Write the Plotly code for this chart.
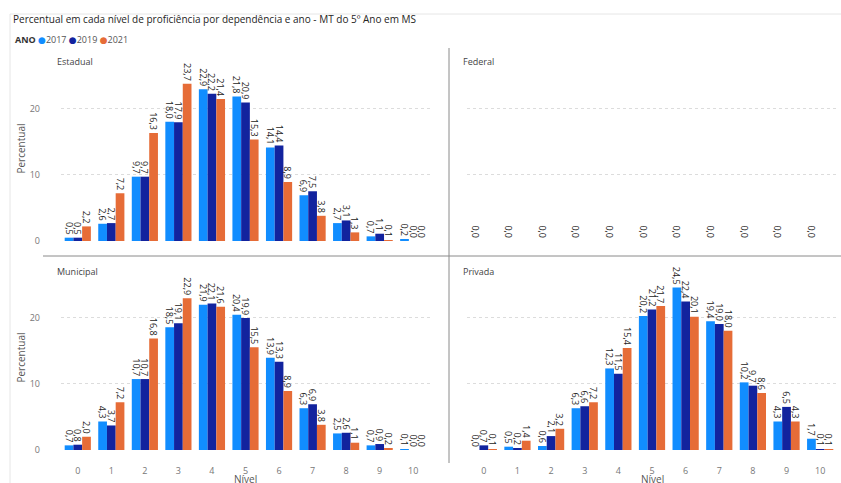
import plotly.graph_objects as go

W, H = 841, 483

niveis = ["0", "1", "2", "3", "4", "5", "6", "7", "8", "9", "10"]
anos = ["2017", "2019", "2021"]
cores = {"2017": "#118DFF", "2019": "#12239E", "2021": "#E66C37"}

estadual_2017 = [0.5, 2.6, 9.7, 18.0, 22.9, 21.8, 14.1, 6.9, 2.7, 0.7, 0.2]
estadual_2019 = [0.5, 2.7, 9.7, 17.9, 22.2, 20.9, 14.4, 7.5, 3.1, 1.1, 0.0]
estadual_2021 = [2.2, 7.2, 16.3, 23.7, 21.4, 15.3, 8.9, 3.8, 1.3, 0.1, 0.0]

federal_2017 = [0.0, 0.0, 0.0, 0.0, 0.0, 0.0, 0.0, 0.0, 0.0, 0.0, 0.0]
federal_2019 = [0.0, 0.0, 0.0, 0.0, 0.0, 0.0, 0.0, 0.0, 0.0, 0.0, 0.0]
federal_2021 = [0.0, 0.0, 0.0, 0.0, 0.0, 0.0, 0.0, 0.0, 0.0, 0.0, 0.0]

municipal_2017 = [0.7, 4.3, 10.7, 18.5, 21.9, 20.4, 13.9, 6.3, 2.5, 0.7, 0.1]
municipal_2019 = [0.8, 3.7, 10.7, 19.1, 22.1, 19.9, 13.3, 6.9, 2.6, 0.9, 0.0]
municipal_2021 = [2.0, 7.2, 16.8, 22.9, 21.6, 15.5, 8.9, 3.8, 1.1, 0.2, 0.0]

privada_2017 = [0.0, 0.5, 0.6, 6.3, 12.3, 20.2, 24.5, 19.4, 10.2, 4.3, 1.7]
privada_2019 = [0.7, 0.2, 2.1, 6.6, 11.5, 21.2, 22.4, 19.0, 9.7, 6.5, 0.1]
privada_2021 = [0.1, 1.4, 3.2, 7.2, 15.4, 21.7, 20.1, 18.0, 8.6, 4.3, 0.1]

y_ticks = [0, 10, 20]

paineis = [
    ("Estadual", "x", "y", [estadual_2017, estadual_2019, estadual_2021], True),
    ("Federal", "x2", "y2", [federal_2017, federal_2019, federal_2021], False),
    ("Municipal", "x3", "y3", [municipal_2017, municipal_2019, municipal_2021], True),
    ("Privada", "x4", "y4", [privada_2017, privada_2019, privada_2021], True),
]

FONT = "Open Sans, DejaVu Sans, sans-serif"


def fmt(v):
    return f"{v:.1f}".replace(".", ",")


fig = go.Figure()
for nome, xa, ya, series, all_labels in paineis:
    for i, (ano, vals) in enumerate(zip(anos, series)):
        show_text = all_labels or i == 0
        fig.add_trace(go.Bar(
            x=niveis, y=vals, name=ano, xaxis=xa, yaxis=ya,
            marker=dict(color=cores[ano], line=dict(width=0)),
            text=[fmt(v) for v in vals] if show_text else None,
            textposition="outside", textangle=90,
            textfont=dict(size=9, color="#252423", family=FONT),
            constraintext="none", cliponaxis=False,
            showlegend=False, hoverinfo="x+y+name",
        ))

px_x = lambda p: p / W
px_y = lambda p: 1 - p / H

left_dom = [px_x(61), px_x(430)]
right_dom = [px_x(467), px_x(837)]
top_dom = [px_y(241), px_y(56)]
bot_dom = [px_y(450), px_y(265)]
yr = [0, 27.9]

xcommon = dict(type="category", range=[-0.5, 10.5], showgrid=False, zeroline=False,
               showline=False, ticks="", tickfont=dict(size=9, color="#777777", family=FONT),
               fixedrange=True, automargin=False)
ycommon = dict(range=yr, tickvals=y_ticks, showgrid=True, gridcolor="#dcdcdc", griddash="dot",
               gridwidth=1, zeroline=False, showline=False, ticks="",
               tickfont=dict(size=9, color="#777777", family=FONT), fixedrange=True, automargin=False)

fig.update_layout(
    width=W, height=H, margin=dict(l=0, r=0, t=0, b=0, autoexpand=False),
    paper_bgcolor="white", plot_bgcolor="white",
    barmode="group", bargap=0.22, bargroupgap=0,
    font=dict(family=FONT, color="#555555"),
    xaxis=dict(xcommon, domain=left_dom, anchor="y", showticklabels=False),
    xaxis2=dict(xcommon, domain=right_dom, anchor="y2", showticklabels=False),
    xaxis3=dict(xcommon, domain=left_dom, anchor="y3", showticklabels=True, ticklabelstandoff=14),
    xaxis4=dict(xcommon, domain=right_dom, anchor="y4", showticklabels=True, ticklabelstandoff=14),
    yaxis=dict(ycommon, domain=top_dom, anchor="x", showticklabels=True, ticklabelstandoff=20,
               title=dict(text="Percentual", font=dict(size=10, color="#555555", family=FONT), standoff=2)),
    yaxis2=dict(ycommon, domain=top_dom, anchor="x2", showticklabels=False),
    yaxis3=dict(ycommon, domain=bot_dom, anchor="x3", showticklabels=True, ticklabelstandoff=20,
                title=dict(text="Percentual", font=dict(size=10, color="#555555", family=FONT), standoff=2)),
    yaxis4=dict(ycommon, domain=bot_dom, anchor="x4", showticklabels=False),
)

# x axis titles
for dom in (left_dom, right_dom):
    fig.add_annotation(text="Nível", xref="paper", yref="paper", x=(dom[0] + dom[1]) / 2, y=px_y(479),
                       xanchor="center", yanchor="middle", showarrow=False,
                       font=dict(size=10, color="#555555", family=FONT))

# panel titles
for nome, px, py in [("Estadual", 55, 62), ("Federal", 461, 62), ("Municipal", 55, 271), ("Privada", 461, 271)]:
    fig.add_annotation(text=nome, xref="paper", yref="paper", x=px_x(px), y=px_y(py),
                       xanchor="left", yanchor="middle", showarrow=False,
                       font=dict(size=9, color="#444444", family=FONT))

# chart title
fig.add_annotation(text="Percentual em cada nível de proficiência por dependência e ano - MT do 5º Ano em MS",
                   xref="paper", yref="paper", x=px_x(11), y=px_y(19), xanchor="left", yanchor="middle",
                   showarrow=False, font=dict(size=10, color="#252423", family=FONT))

# legend
leg = "<b>ANO</b> " + " ".join(
    f"<span style='color:{cores[a]}'>●</span><span style='color:#555555'>{a}</span>" for a in anos)
fig.add_annotation(text=leg, xref="paper", yref="paper", x=px_x(13), y=px_y(40), xanchor="left",
                   yanchor="middle", showarrow=False, font=dict(size=9, color="#333333", family=FONT))

# frame and dividers
line_col = "#8a8a8a"
fig.add_shape(type="line", xref="paper", yref="paper", x0=px_x(10), x1=px_x(10), y0=px_y(14), y1=0,
              line=dict(color="#e6e6e6", width=1))
fig.add_shape(type="line", xref="paper", yref="paper", x0=px_x(10), x1=1, y0=px_y(14), y1=px_y(14),
              line=dict(color="#e6e6e6", width=1))
fig.add_shape(type="line", xref="paper", yref="paper", x0=px_x(449), x1=px_x(449), y0=px_y(48), y1=px_y(463),
              line=dict(color=line_col, width=1))
fig.add_shape(type="line", xref="paper", yref="paper", x0=px_x(43), x1=1, y0=px_y(256), y1=px_y(256),
              line=dict(color=line_col, width=1))

fig.write_html("out.html", config={"displayModeBar": False},
               post_script="document.body.style.margin='0';document.body.style.overflow='hidden';")
